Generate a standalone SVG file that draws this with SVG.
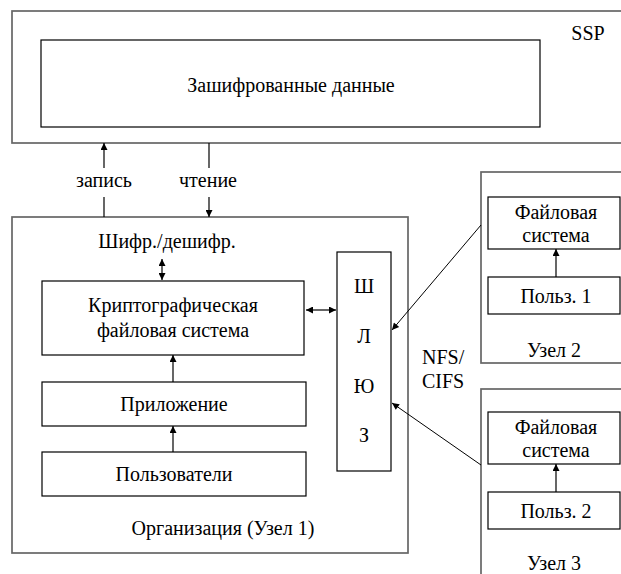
<svg xmlns="http://www.w3.org/2000/svg" width="621" height="574" viewBox="0 0 621 574">
<style>
  text { font-family: "Liberation Serif", "Times New Roman", "DejaVu Serif", serif; font-size: 20px; fill: #000; }
  .c { text-anchor: middle; }
  .outer { fill: none; stroke: #666; stroke-width: 1.7; }
  .box { fill: #fff; stroke: #000; stroke-width: 1.2; }
  .ln { fill: none; stroke: #000; stroke-width: 1.2; }
</style>
<defs>
  <marker id="ah" viewBox="0 0 10 10" refX="10" refY="5" markerWidth="9" markerHeight="7" markerUnits="userSpaceOnUse" orient="auto-start-reverse">
    <path d="M0,0 L10,5 L0,10 z" fill="#000"/>
  </marker>
</defs>
<rect width="621" height="574" fill="#fff"/>

<g id="ssp">
  <rect class="outer" x="12" y="11" width="640" height="132"/>
  <text class="c" x="588" y="40">SSP</text>
</g>
<g id="encrypted">
  <rect class="box" x="41" y="40" width="499" height="87"/>
  <text class="c" x="291" y="92">Зашифрованные данные</text>
</g>

<g id="org">
  <rect class="outer" x="12" y="217" width="396" height="336"/>
  <text class="c" x="167" y="248">Шифр./дешифр.</text>
  <text class="c" x="223" y="535">Организация (Узел 1)</text>
</g>
<g id="cryptofs">
  <rect class="box" x="42" y="281" width="262" height="74"/>
  <text class="c" x="173" y="312">Криптографическая</text>
  <text class="c" x="173" y="337">файловая система</text>
</g>
<g id="app">
  <rect class="box" x="42" y="382" width="264" height="44"/>
  <text class="c" x="174" y="411">Приложение</text>
</g>
<g id="users">
  <rect class="box" x="42" y="452" width="264" height="44"/>
  <text class="c" x="174" y="481">Пользователи</text>
</g>
<g id="gateway">
  <rect class="box" x="337" y="252" width="54" height="219"/>
  <text class="c" x="364" y="293">Ш</text>
  <text class="c" x="364" y="343">Л</text>
  <text class="c" x="364" y="393">Ю</text>
  <text class="c" x="364" y="442">З</text>
</g>

<g id="node2">
  <rect class="outer" x="481" y="172" width="160" height="191"/>
  <rect class="box" x="488" y="197" width="132" height="52"/>
  <text class="c" x="556" y="219">Файловая</text>
  <text class="c" x="556" y="242">система</text>
  <rect class="box" x="488" y="277" width="132" height="37"/>
  <text class="c" x="556" y="303">Польз. 1</text>
  <text class="c" x="554" y="357">Узел 2</text>
</g>
<g id="node3">
  <rect class="outer" x="481" y="389" width="160" height="200"/>
  <rect class="box" x="488" y="412" width="132" height="52"/>
  <text class="c" x="556" y="434">Файловая</text>
  <text class="c" x="556" y="457">система</text>
  <rect class="box" x="488" y="492" width="132" height="37"/>
  <text class="c" x="556" y="518">Польз. 2</text>
  <text class="c" x="554" y="570">Узел 3</text>
</g>

<text x="422" y="364">NFS/</text>
<text x="422" y="388">CIFS</text>

<g id="connectors">
  <path class="ln" d="M104,217 V197" />
  <path class="ln" d="M104,168 V143" marker-end="url(#ah)"/>
  <text class="c" x="104" y="187">запись</text>
  <path class="ln" d="M209,143 V168" />
  <path class="ln" d="M209,197 V217" marker-end="url(#ah)"/>
  <text class="c" x="208" y="187">чтение</text>
  <path class="ln" d="M162,259 V280" marker-start="url(#ah)" marker-end="url(#ah)"/>
  <path class="ln" d="M306,310 H336" marker-start="url(#ah)" marker-end="url(#ah)"/>
  <path class="ln" d="M173,382 V355" marker-end="url(#ah)"/>
  <path class="ln" d="M173,452 V426" marker-end="url(#ah)"/>
  <path class="ln" d="M556,277 V249" marker-end="url(#ah)"/>
  <path class="ln" d="M556,492 V464" marker-end="url(#ah)"/>
  <path class="ln" style="stroke-width:1" d="M481,225 L392,330" marker-end="url(#ah)"/>
  <path class="ln" style="stroke-width:1" d="M481,465 L392,403" marker-end="url(#ah)"/>
</g>
</svg>
